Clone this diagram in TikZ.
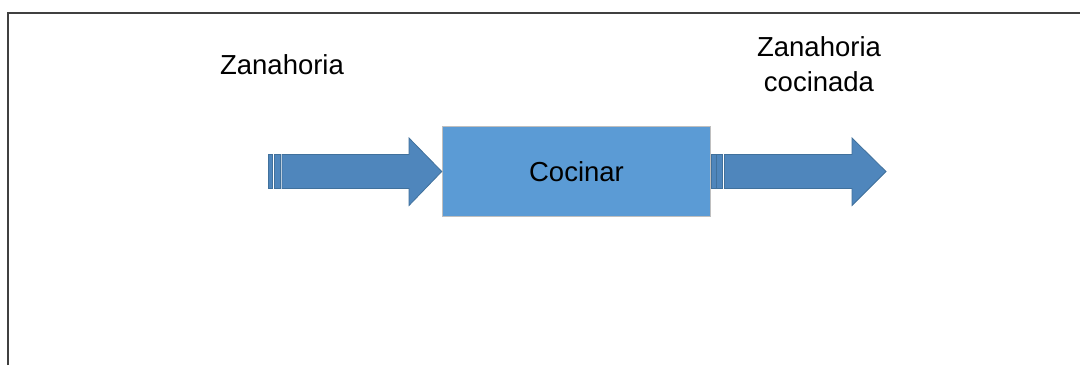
\documentclass[tikz,border=0pt]{standalone}
\usepackage{fontspec}
\setmainfont{Liberation Sans}
\definecolor{arrowfill}{HTML}{4F86BC}
\definecolor{arrowline}{HTML}{41719C}
\definecolor{boxfill}{HTML}{5B9BD5}
\definecolor{boxline}{HTML}{BFBFBF}
\definecolor{frameline}{HTML}{404040}
\tikzset{
  flowarrow/.style={fill=arrowfill, draw=arrowline, line width=0.8pt, line join=miter},
  stripe/.style={fill=arrowfill, draw=arrowline, line width=0.8pt},
  procbox/.style={rectangle, fill=boxfill, draw=boxline, line width=1.5pt,
    minimum width=268pt, minimum height=90pt, inner sep=0pt,
    font=\fontsize{27.5}{33}\selectfont},
  lbl/.style={font=\fontsize{27.5}{35.5}\selectfont, align=center, inner sep=0pt}
}
\begin{document}
\begin{tikzpicture}[x=1pt, y=-1pt]
\useasboundingbox (0,0) rectangle (1080,365);
\fill[white] (0,0) rectangle (1080,365);
% frame edges
\draw[frameline, line width=1.6pt] (8,365) -- (8,13) -- (1080,13);

% process box
\node[procbox] (cook) at (576.5,171.5) {Cocinar};

% input arrow with striped tail
\draw[stripe] (268,154.5) rectangle (272.5,188.5);
\draw[stripe] (274,154.5) rectangle (280.5,188.5);
\draw[flowarrow] (282,154.5) -- (409,154.5) -- (409,138) -- (cook.west)
  -- (409,205.5) -- (409,188.5) -- (282,188.5) -- cycle;

% output arrow with striped tail
\coordinate (outtip) at (886,171.5);
\draw[stripe] (cook.east) ++(0,-17) rectangle ++(5.5,34);
\draw[stripe] (716.5,154.5) rectangle (722.5,188.5);
\draw[flowarrow] (724.5,154.5) -- (852,154.5) -- (852,138) -- (outtip)
  -- (852,205.5) -- (852,188.5) -- (724.5,188.5) -- cycle;

% labels (base anchor of a two-line node sits on its last line)
\node[lbl, anchor=base] (inlbl) at (282,74.3) {Zanahoria};
\node[lbl, anchor=base] (outlbl) at (819,91.7) {Zanahoria\\cocinada};
\end{tikzpicture}
\end{document}
